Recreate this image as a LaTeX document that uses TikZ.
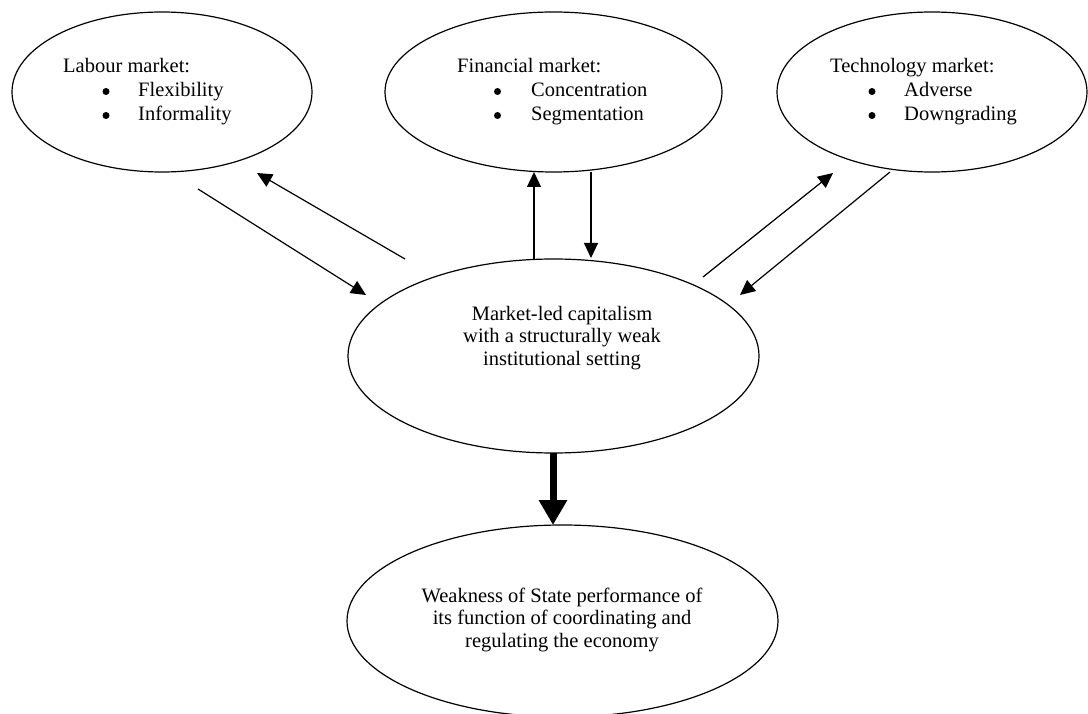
\documentclass[tikz,border=0pt]{standalone}
\usepackage{fontspec}
\setmainfont{Liberation Serif}
\usetikzlibrary{shapes.geometric,arrows.meta}
\begin{document}
\begin{tikzpicture}[x=1pt,y=-1pt,
  oval/.style={ellipse,draw,line width=1.2pt,inner sep=0pt},
  txt/.style={inner sep=0pt,font=\fontsize{20.5}{22.5}\selectfont},
  lft/.style={txt,anchor=base west},
  ctr/.style={txt,anchor=base},
  dot/.style={circle,fill,inner sep=0pt,minimum size=7pt},
  link/.style={line width=1.2pt,-{Triangle[length=15pt,width=14pt]}},
  bold/.style={line width=7pt,-{Triangle[length=25pt,width=27pt]}}]
\useasboundingbox (0,0) rectangle (1088,714);
% ellipses
\node[oval,minimum width=300pt,minimum height=160pt] (lab) at (162,92) {};
\node[oval,minimum width=337pt,minimum height=160pt] (fin) at (553.5,92) {};
\node[oval,minimum width=310pt,minimum height=160pt] (tec) at (932,92) {};
\node[oval,minimum width=411pt,minimum height=194pt] (cen) at (553.5,356) {};
\node[oval,minimum width=431pt,minimum height=192pt] (wea) at (562.5,621) {};
% labour text
\node[lft] (lab0) at (63,73) {Labour market:};
\node[dot] (lab1b) at (106,91.5) {};
\node[lft] (lab1) at (138,97) {Flexibility};
\node[dot] (lab2b) at (106,115.5) {};
\node[lft] (lab2) at (138,121) {Informality};
% financial text
\node[lft] (fin0) at (457,73) {Financial market:};
\node[dot] (fin1b) at (497.5,91.5) {};
\node[lft] (fin1) at (531,97) {Concentration};
\node[dot] (fin2b) at (497.5,115.5) {};
\node[lft] (fin2) at (531,121) {Segmentation};
% technology text
\node[lft] (tec0) at (830,73) {Technology market:};
\node[dot] (tec1b) at (872,91.5) {};
\node[lft] (tec1) at (904,97) {Adverse};
\node[dot] (tec2b) at (872,115.5) {};
\node[lft] (tec2) at (904,121) {Downgrading};
% center text
\node[ctr] (cen1) at (562,320) {Market-led capitalism};
\node[ctr] (cen2) at (562,342) {with a structurally weak};
\node[ctr] (cen3) at (562,365) {institutional setting};
% bottom text
\node[ctr] (wea1) at (562,602) {Weakness of State performance of};
\node[ctr] (wea2) at (562,624) {its function of coordinating and};
\node[ctr] (wea3) at (562,647) {regulating the economy};
% connector end points
\coordinate (labOut) at (198,189);
\coordinate (cenInL) at (366,295);
\coordinate (cenOutL) at (405,259);
\coordinate (labIn) at (257,173);
\coordinate (cenOutF) at (534,259);
\coordinate (finIn) at (534,172);
\coordinate (finOut) at (591,172);
\coordinate (cenInF) at (591,258);
\coordinate (cenOutT) at (703,277);
\coordinate (tecIn) at (833,173);
\coordinate (tecOut) at (890,172);
\coordinate (cenInT) at (740,295);
\coordinate (cenBot) at (553,453);
\coordinate (weaTop) at (553,525);
% connectors
\draw[link] (labOut) -- (cenInL);
\draw[link] (cenOutL) -- (labIn);
\draw[link] (cenOutF) -- (finIn);
\draw[link] (finOut) -- (cenInF);
\draw[link] (cenOutT) -- (tecIn);
\draw[link] (tecOut) -- (cenInT);
\draw[bold] (cenBot) -- (weaTop);
\end{tikzpicture}
\end{document}
